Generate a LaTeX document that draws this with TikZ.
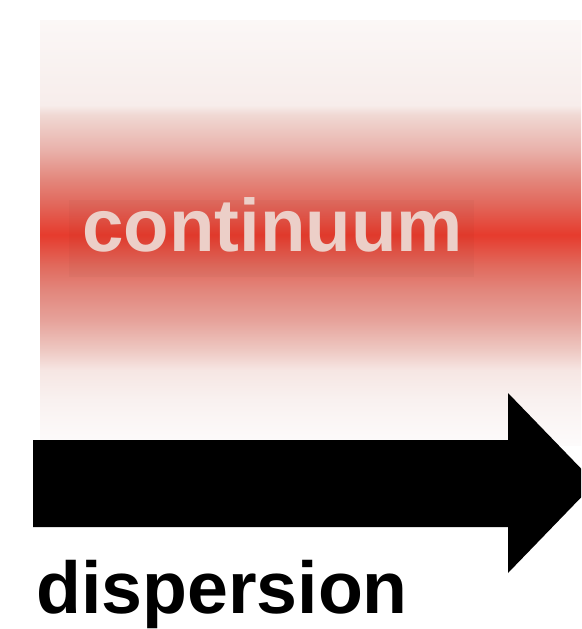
\documentclass[tikz,border=0pt]{standalone}
\usepackage{fontspec}
\setmainfont{Liberation Sans}
\definecolor{g20}{HTML}{FBF7F6}
\definecolor{g105}{HTML}{F7EDEB}
\definecolor{g115}{HTML}{F0D8D3}
\definecolor{g150}{HTML}{E9B1AA}
\definecolor{g180}{HTML}{E3867B}
\definecolor{g205}{HTML}{E2665A}
\definecolor{g235}{HTML}{E63B2D}
\definecolor{g265}{HTML}{E1695C}
\definecolor{g290}{HTML}{E2867C}
\definecolor{g320}{HTML}{E6A29A}
\definecolor{g350}{HTML}{EEC8C2}
\definecolor{g370}{HTML}{F6E6E3}
\definecolor{g400}{HTML}{F9F1F0}
\definecolor{g445}{HTML}{FDFBFB}
\definecolor{pinktext}{HTML}{ECCFC8}
\pgfdeclareverticalshading{band}{100bp}{%
 color(0bp)=(g445); color(25bp)=(g445); color(30.29bp)=(g400);
 color(33.82bp)=(g370); color(36.18bp)=(g350); color(39.7bp)=(g320);
 color(43.24bp)=(g290); color(46.18bp)=(g265); color(49.71bp)=(g235);
 color(53.24bp)=(g205); color(56.18bp)=(g180); color(59.7bp)=(g150);
 color(63.82bp)=(g115); color(65bp)=(g105); color(75bp)=(g20); color(100bp)=(g20)}
\tikzset{lbl/.style={font=\fontsize{73.5}{80}\selectfont\bfseries, inner sep=0pt, anchor=base west}}
\begin{document}
\begin{tikzpicture}[x=1pt,y=-1pt]
\useasboundingbox (0,0) rectangle (581,629);
\clip (0,0) rectangle (581,629);
\fill[white] (0,0) rectangle (581,629);
% continuum band
\shade[shading=band] (40,20) rectangle (581,445);
\fill[black, opacity=0.025] (69,200) rectangle (474,277);
\node[lbl, text=pinktext, font=\fontsize{74.5}{80}\selectfont\bfseries] (cont) at (82,251) {continuum};
% arrow
\fill[black] (33,440) coordinate (a1) -- (508,440) -- (508,393) -- (595,483) coordinate (tip)
  -- (508,573) -- (508,527) -- (33,527) -- cycle;
\node[lbl, text=black] (disp) at (36,613) {dispersion};
\end{tikzpicture}
\end{document}
